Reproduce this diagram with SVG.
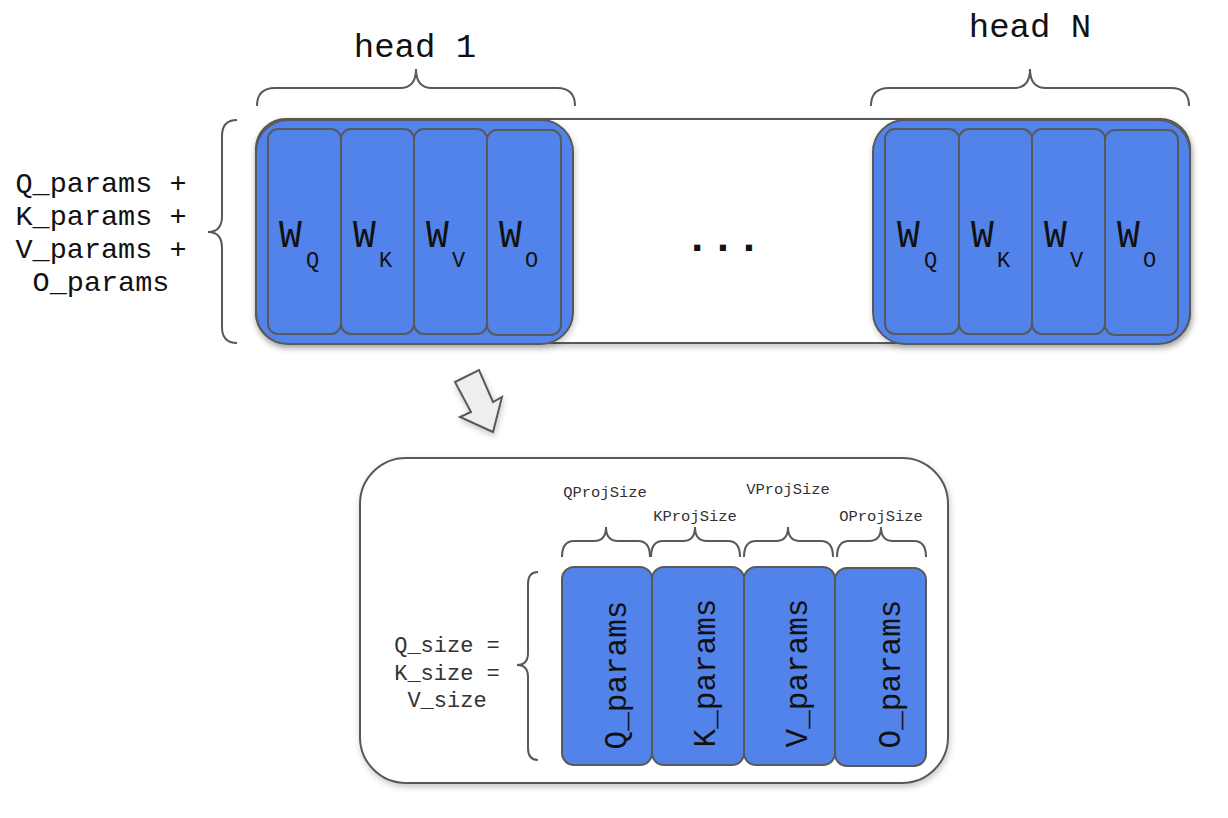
<svg xmlns="http://www.w3.org/2000/svg" width="1228" height="818" viewBox="0 0 1228 818">
<defs>
<filter id="sh" x="-10%" y="-10%" width="125%" height="130%">
<feDropShadow dx="1" dy="3" stdDeviation="3" flood-color="#000" flood-opacity="0.22"/>
</filter>
</defs>
<style>
.box{fill:#ffffff;stroke:#595959;stroke-width:2}
.head{fill:#5183ea;stroke:#595959;stroke-width:2}
.cell{fill:#5183ea;stroke:#595959;stroke-width:2}
.brace{fill:none;stroke:#595959;stroke-width:2}
.mono{font-family:"Liberation Mono","Courier New",monospace;fill:#111}
.w{font-size:38px}
.sub{font-size:22px}
.big{font-size:34px}
.side{font-size:28.5px}
.small{font-size:15.5px;fill:#333}
.eq{font-size:22px;fill:#333}
.rot{font-size:31px}
</style>
<rect x="0" y="0" width="1228" height="818" fill="#ffffff"/>

<g id="outer-row">
<rect class="box" x="256" y="119" width="934" height="224" rx="30" filter="url(#sh)"/>
</g>

<g id="head1">
<rect class="head" x="256" y="120" width="317" height="224" rx="32" filter="url(#sh)"/>
<rect class="cell" x="268" y="129" width="73" height="205" rx="10"/>
<rect class="cell" x="341" y="129" width="73" height="205" rx="10"/>
<rect class="cell" x="414" y="129" width="73" height="205" rx="10"/>
<rect class="cell" x="487" y="130" width="74" height="205" rx="10"/>
<text class="mono w" x="279" y="247">W</text><text class="mono sub" x="306" y="267">Q</text>
<text class="mono w" x="353" y="247">W</text><text class="mono sub" x="379" y="267">K</text>
<text class="mono w" x="426" y="247">W</text><text class="mono sub" x="452" y="267">V</text>
<text class="mono w" x="499" y="247">W</text><text class="mono sub" x="525" y="267">O</text>
</g>

<g id="headN">
<rect class="head" x="873" y="120" width="317" height="224" rx="32" filter="url(#sh)"/>
<rect class="cell" x="885" y="129" width="74" height="205" rx="10"/>
<rect class="cell" x="959" y="129" width="73" height="205" rx="10"/>
<rect class="cell" x="1032" y="129" width="73" height="205" rx="10"/>
<rect class="cell" x="1105" y="130" width="73" height="205" rx="10"/>
<text class="mono w" x="897" y="247">W</text><text class="mono sub" x="924" y="267">Q</text>
<text class="mono w" x="971" y="247">W</text><text class="mono sub" x="997" y="267">K</text>
<text class="mono w" x="1044" y="247">W</text><text class="mono sub" x="1070" y="267">V</text>
<text class="mono w" x="1117" y="247">W</text><text class="mono sub" x="1143" y="267">O</text>
</g>

<g id="ellipsis">
<text class="mono" x="723" y="251" font-size="43" font-weight="bold" text-anchor="middle">...</text>
</g>

<g id="labels-top">
<text class="mono big" x="415" y="57" text-anchor="middle">head 1</text>
<text class="mono big" x="1030" y="37" text-anchor="middle">head N</text>
<text class="mono side" x="101" y="192" text-anchor="middle">Q_params +</text>
<text class="mono side" x="101" y="225" text-anchor="middle">K_params +</text>
<text class="mono side" x="101" y="258" text-anchor="middle">V_params +</text>
<text class="mono side" x="101" y="291" text-anchor="middle">O_params</text>
</g>

<g id="arrow">
<polygon points="455,382 479,370 493,402 502,397 493,432 460,417 471,412" fill="#eeeeee" stroke="#595959" stroke-width="2" stroke-linejoin="miter" filter="url(#sh)"/>
</g>

<g id="detail">
<rect class="box" x="360" y="458" width="588" height="325" rx="46" filter="url(#sh)"/>
<rect class="cell" x="562" y="567" width="90" height="198" rx="12"/>
<rect class="cell" x="652" y="567" width="92" height="198" rx="12"/>
<rect class="cell" x="744" y="567" width="91" height="198" rx="12"/>
<rect class="cell" x="835" y="568" width="91" height="198" rx="12"/>
<text class="mono rot" transform="translate(626,675) rotate(-90)" text-anchor="middle">Q_params</text>
<text class="mono rot" transform="translate(715,673) rotate(-90)" text-anchor="middle">K_params</text>
<text class="mono rot" transform="translate(807,673) rotate(-90)" text-anchor="middle">V_params</text>
<text class="mono rot" transform="translate(900,674) rotate(-90)" text-anchor="middle">O_params</text>
<text class="mono small" x="605" y="497" text-anchor="middle">QProjSize</text>
<text class="mono small" x="695" y="521" text-anchor="middle">KProjSize</text>
<text class="mono small" x="788" y="494" text-anchor="middle">VProjSize</text>
<text class="mono small" x="881" y="521" text-anchor="middle">OProjSize</text>
<text class="mono eq" x="447" y="652" text-anchor="middle">Q_size =</text>
<text class="mono eq" x="447" y="680" text-anchor="middle">K_size =</text>
<text class="mono eq" x="447" y="707" text-anchor="middle">V_size</text>
</g>

<g id="braces">
<path class="brace" d="M257,106 Q257,88 275,88 L400,88 Q416,88 416,69 Q416,88 432,88 L557,88 Q575,88 575,106"/>
<path class="brace" d="M871,106 Q871,88 889,88 L1014,88 Q1030,88 1030,69 Q1030,88 1046,88 L1171,88 Q1189,88 1189,106"/>
<path class="brace" d="M237,120 Q222,120 222,136 L222,216 Q222,232 208,232 Q222,232 222,248 L222,327 Q222,343 237,343"/>
<path class="brace" d="M538,572 Q528,572 528,584 L528,653 Q528,665 517,665 Q528,665 528,677 L528,748 Q528,760 538,760"/>
<path class="brace" d="M562,557 Q562,541 574,541 L594,541 Q606,541 606,527 Q606,541 618,541 L638,541 Q650,541 650,557"/>
<path class="brace" d="M651,557 Q651,541 663,541 L683,541 Q695,541 695,527 Q695,541 707,541 L728,541 Q740,541 740,557"/>
<path class="brace" d="M744,557 Q744,541 756,541 L776,541 Q788,541 788,527 Q788,541 800,541 L821,541 Q833,541 833,557"/>
<path class="brace" d="M837,557 Q837,541 849,541 L869,541 Q881,541 881,527 Q881,541 893,541 L914,541 Q926,541 926,557"/>
</g>
</svg>
